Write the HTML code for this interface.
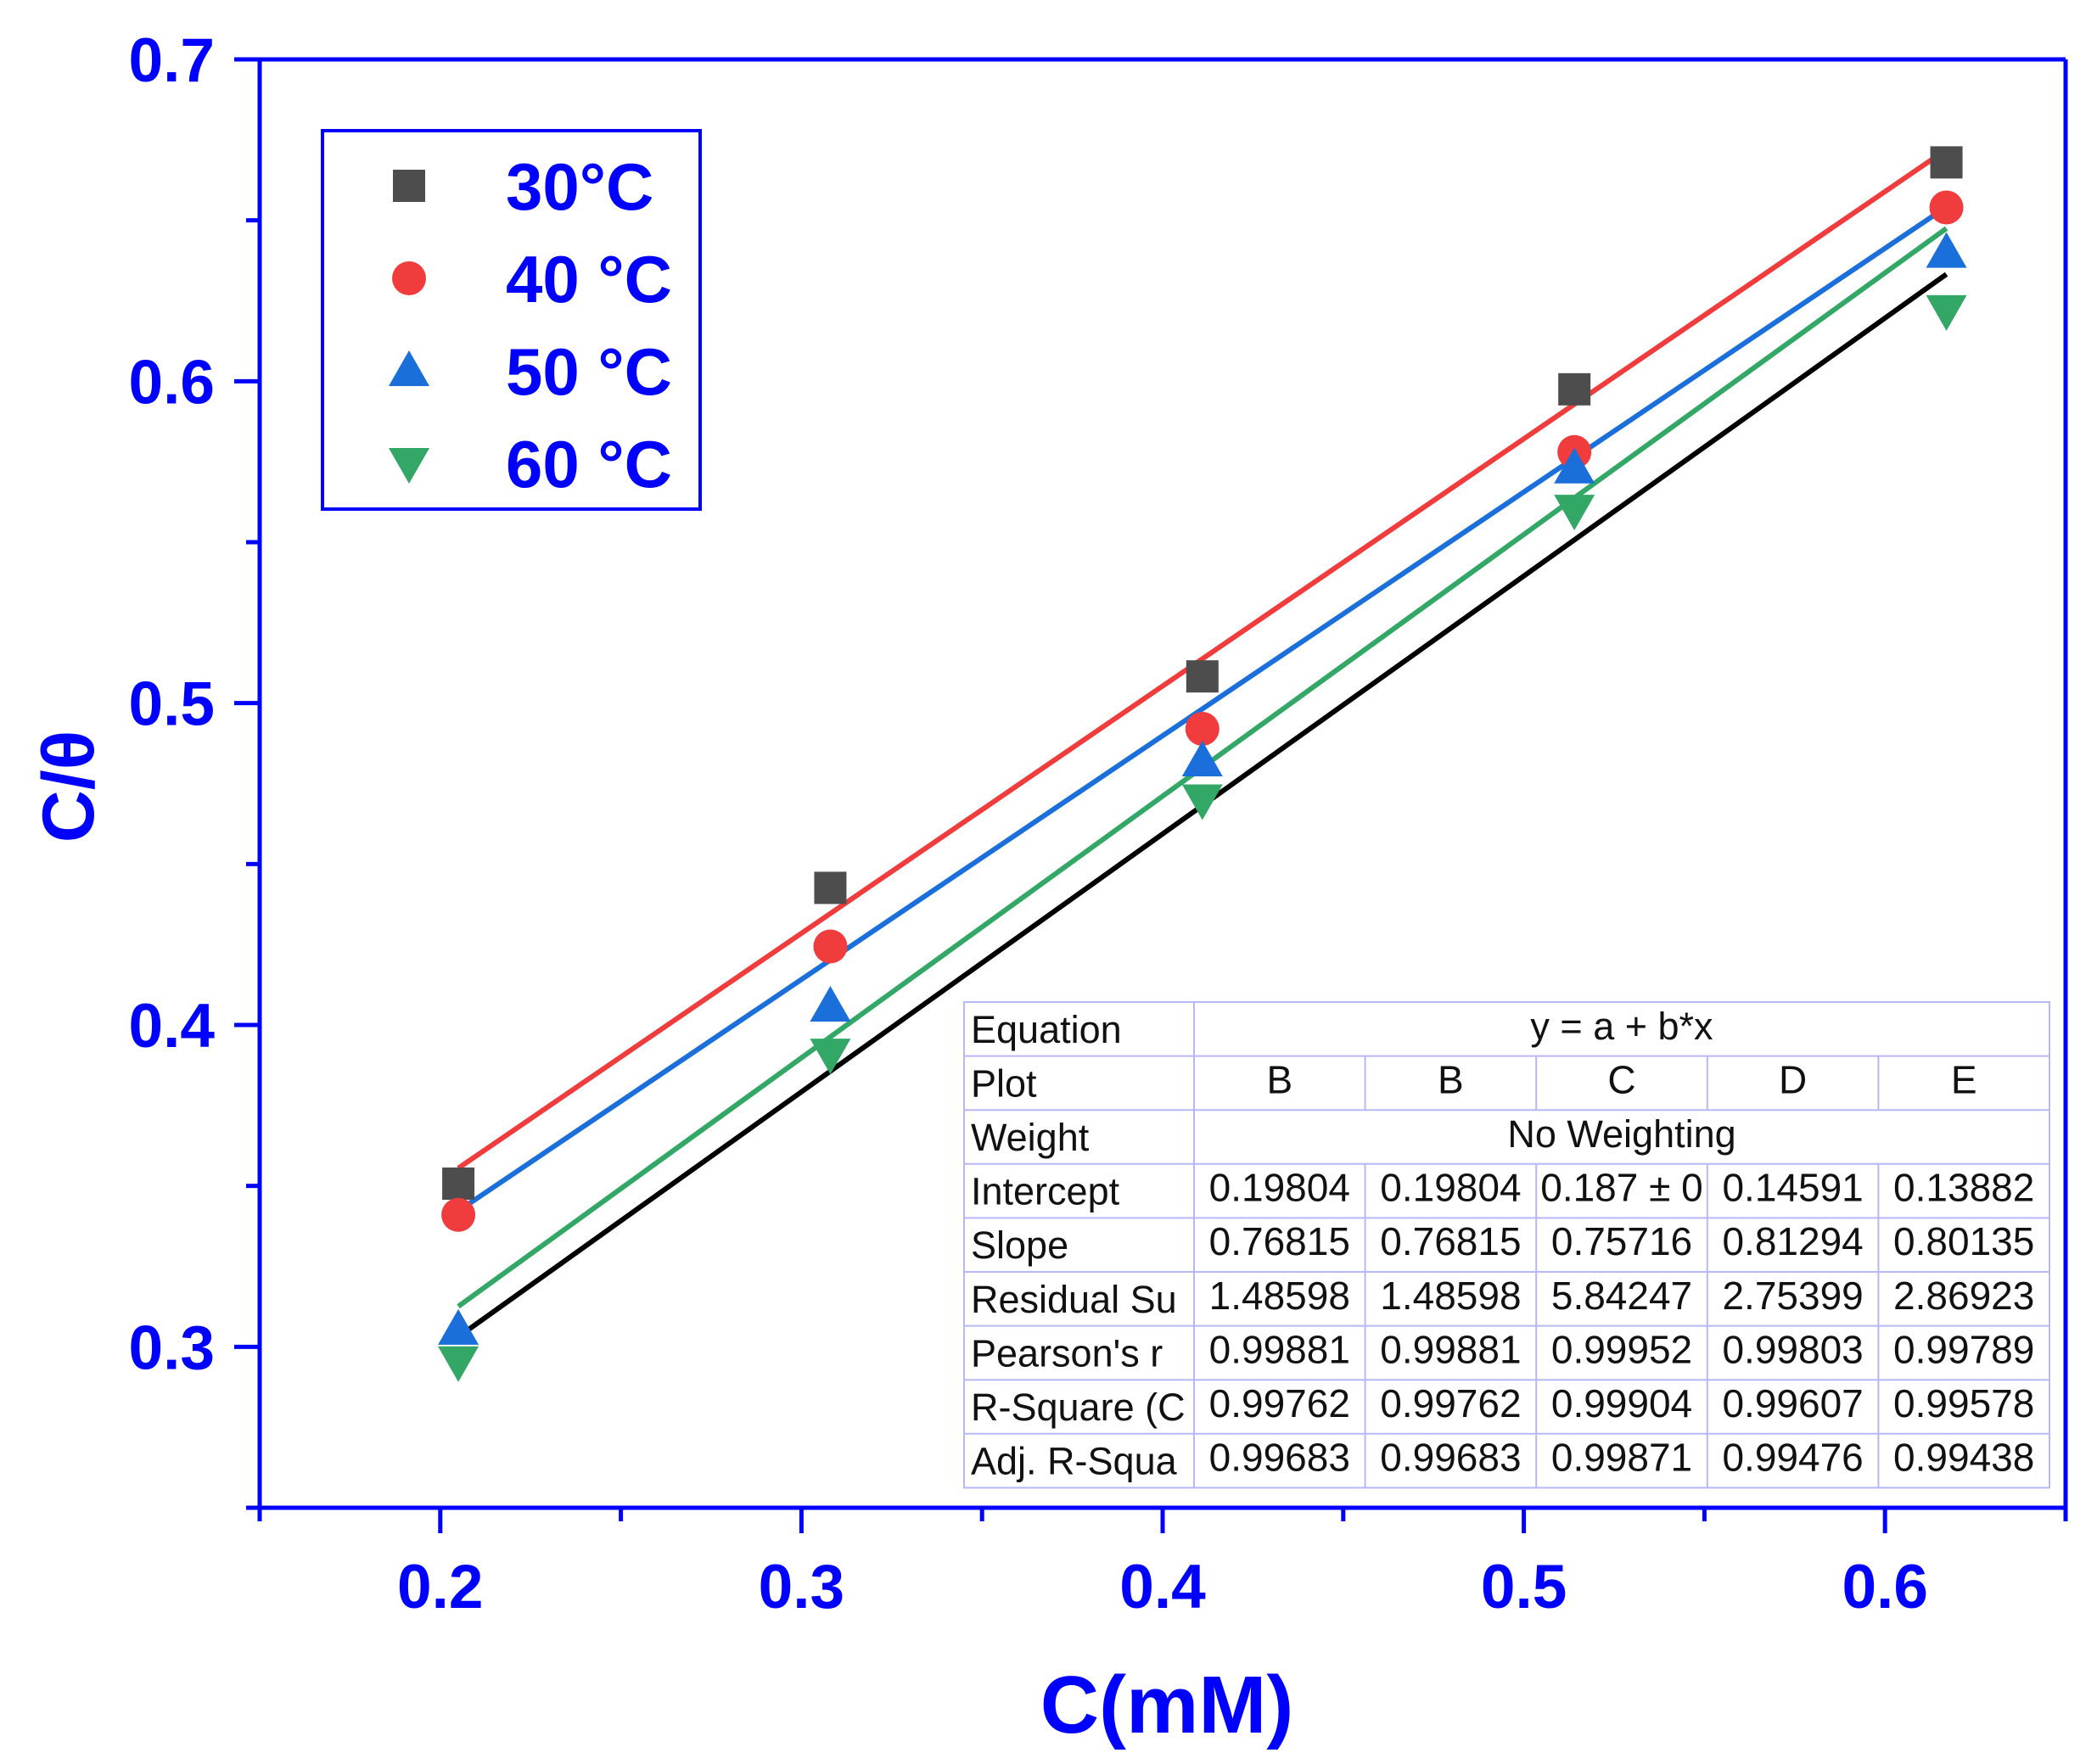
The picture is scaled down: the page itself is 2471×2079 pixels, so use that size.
<!DOCTYPE html>
<html><head><meta charset="utf-8"><style>
html,body{margin:0;padding:0;background:#fff}
svg{display:block}
text{font-family:"Liberation Sans",Arial,sans-serif}
</style></head><body>
<svg id="chart" width="2471" height="2079" viewBox="0 0 2471 2079" xmlns="http://www.w3.org/2000/svg">
<g id="marks"></g>
<g id="axes"></g>
<g id="legend"></g>
<g id="table"></g>
</svg>
<script>
const xValues = [0.205, 0.308, 0.411, 0.514, 0.617];
const y30 = [0.3507, 0.4426, 0.5083, 0.5975, 0.668];
const y40 = [0.341, 0.4244, 0.492, 0.578, 0.654];
const y50 = [0.3054, 0.4058, 0.482, 0.573, 0.640];
const y60 = [0.2954, 0.391, 0.470, 0.560, 0.622];
const fitIntercepts = [0.19804, 0.187, 0.14591, 0.13882];
const fitSlopes = [0.76815, 0.75716, 0.81294, 0.80135];
const xTicks = ["0.2", "0.3", "0.4", "0.5", "0.6"];
const yTicks = ["0.3", "0.4", "0.5", "0.6", "0.7"];
const seriesNames = ["30°C", "40 °C", "50 °C", "60 °C"];
const tableRows = [
 ["Equation","y = a + b*x"],
 ["Plot","B","B","C","D","E"],
 ["Weight","No Weighting"],
 ["Intercept","0.19804","0.19804","0.187 ± 0","0.14591","0.13882"],
 ["Slope","0.76815","0.76815","0.75716","0.81294","0.80135"],
 ["Residual Su","1.48598","1.48598","5.84247","2.75399","2.86923"],
 ["Pearson's r","0.99881","0.99881","0.99952","0.99803","0.99789"],
 ["R-Square (C","0.99762","0.99762","0.99904","0.99607","0.99578"],
 ["Adj. R-Squa","0.99683","0.99683","0.99871","0.99476","0.99438"]
];

const NS="http://www.w3.org/2000/svg";
const L=306,R=2434,T=70,B=1777;
const X0=0.15,X1=0.65,Y0=0.25,Y1=0.7;
const sx=v=>L+(v-X0)/(X1-X0)*(R-L);
const sy=v=>B-(v-Y0)/(Y1-Y0)*(B-T);
function mk(tag,attrs,parent){const e=document.createElementNS(NS,tag);for(const k in attrs)e.setAttribute(k,attrs[k]);parent.appendChild(e);return e;}
const BLUE="#0000ff";
const colors=["#4d4d4d","#f03c3c","#1a6fdb","#33a866"];
const lineColors=["#f03c3c","#1a6fdb","#33a866","#000000"];
const marks=document.getElementById('marks');
const axes=document.getElementById('axes');

function marker(kind,cx,cy,color,parent){
  let e;
  if(kind===0){e=mk('rect',{x:cx-19,y:cy-19,width:38,height:38,fill:color},parent);}
  else if(kind===1){e=mk('circle',{cx:cx,cy:cy,r:20,fill:color},parent);}
  else if(kind===2){e=mk('polygon',{points:`${cx},${cy-24} ${cx+24},${cy+18} ${cx-24},${cy+18}`,fill:color},parent);}
  else {e=mk('polygon',{points:`${cx},${cy+24} ${cx+24},${cy-18} ${cx-24},${cy-18}`,fill:color},parent);}
  return e;
}

for(let i=0;i<4;i++){
  const xa=xValues[0],xb=xValues[xValues.length-1];
  const ln=mk('line',{x1:sx(xa),y1:sy(fitIntercepts[i]+fitSlopes[i]*xa),x2:sx(xb),y2:sy(fitIntercepts[i]+fitSlopes[i]*xb),stroke:lineColors[i],'stroke-width':6},marks);
  
  
}
const series=[y30,y40,y50,y60];
series.forEach((ys,si)=>{
  ys.forEach((v,j)=>{
    const m=marker(si,sx(xValues[j]),sy(v),colors[si],marks);
    
    
  });
});

mk('line',{x1:L,y1:T,x2:R,y2:T,stroke:BLUE,'stroke-width':5},axes);
mk('line',{x1:R,y1:T,x2:R,y2:B,stroke:BLUE,'stroke-width':5},axes);
mk('line',{x1:L,y1:T-2,x2:L,y2:B+2,stroke:BLUE,'stroke-width':5},axes);
mk('line',{x1:L-2,y1:B,x2:R+2,y2:B,stroke:BLUE,'stroke-width':5},axes);
for(let v=0.25;v<=0.7001;v+=0.05){
  const y=sy(v);const major=Math.abs(v*10-Math.round(v*10))<0.01;
  mk('line',{x1:L-(major?30:16),y1:y,x2:L,y2:y,stroke:BLUE,'stroke-width':5},axes);
}
yTicks.forEach(t=>{
  const e=mk('text',{x:253,y:sy(parseFloat(t))+26,'text-anchor':'end','font-size':73,'font-weight':'bold',fill:BLUE},axes);
  e.textContent=t;
  
  
});
for(let v=0.15;v<=0.6501;v+=0.05){
  const x=sx(v);const major=Math.abs(v*10-Math.round(v*10))<0.01;
  mk('line',{x1:x,y1:B,x2:x,y2:B+(major?30:16),stroke:BLUE,'stroke-width':5},axes);
}
xTicks.forEach(t=>{
  const e=mk('text',{x:sx(parseFloat(t)),y:1895,'text-anchor':'middle','font-size':73,'font-weight':'bold',fill:BLUE},axes);
  e.textContent=t;
  
  
});
const xt=mk('text',{x:1375,y:2042,'text-anchor':'middle','font-size':96,'font-weight':'bold',fill:BLUE},axes);
xt.textContent="C(mM)";


const yt=mk('text',{x:0,y:0,'text-anchor':'middle','font-size':86,'font-weight':'bold',fill:BLUE,transform:'translate(110,927) rotate(-90)'},axes);
yt.textContent="C/θ";



const lg=document.getElementById('legend');
mk('rect',{x:380,y:154,width:445,height:446,fill:'#fff',stroke:BLUE,'stroke-width':4},lg);
seriesNames.forEach((n,i)=>{
  const cy=219+i*109;
  const m=marker(i,482,cy,colors[i],lg);
  
  
  const t=mk('text',{x:596,y:cy+28,'font-size':78,'font-weight':'bold',fill:BLUE},lg);
  t.textContent=n;
  
  
});

const tb=document.getElementById('table');
const TX=1136,TY=1181,RH=63.6,C0=271,CW=201.6;
mk('rect',{x:TX,y:TY,width:C0+5*CW,height:9*RH,fill:'#fff',stroke:'#b8b8f8','stroke-width':2},tb);
tableRows.forEach((row,r)=>{
  const y=TY+r*RH;
  if(r>0)mk('line',{x1:TX,y1:y,x2:TX+C0+5*CW,y2:y,stroke:'#b8b8f8','stroke-width':2},tb);
  const lab=mk('text',{x:TX+8,y:y+RH/2+16,'font-size':45,fill:'#111'},tb);
  lab.textContent=row[0];
  
  
  mk('line',{x1:TX+C0,y1:y,x2:TX+C0,y2:y+RH,stroke:'#b8b8f8','stroke-width':2},tb);
  if(row.length===2){
    const t=mk('text',{x:TX+C0+2.5*CW,y:y+RH/2+12,'text-anchor':'middle','font-size':45,fill:'#111'},tb);
    t.textContent=row[1];
    
    
  } else {
    for(let c=1;c<row.length;c++){
      if(c>1)mk('line',{x1:TX+C0+(c-1)*CW,y1:y,x2:TX+C0+(c-1)*CW,y2:y+RH,stroke:'#b8b8f8','stroke-width':2},tb);
      const t=mk('text',{x:TX+C0+(c-0.5)*CW,y:y+RH/2+12,'text-anchor':'middle','font-size':46,fill:'#111'},tb);
      t.textContent=row[c];
      
      
    }
  }
});
</script>
</body></html>
